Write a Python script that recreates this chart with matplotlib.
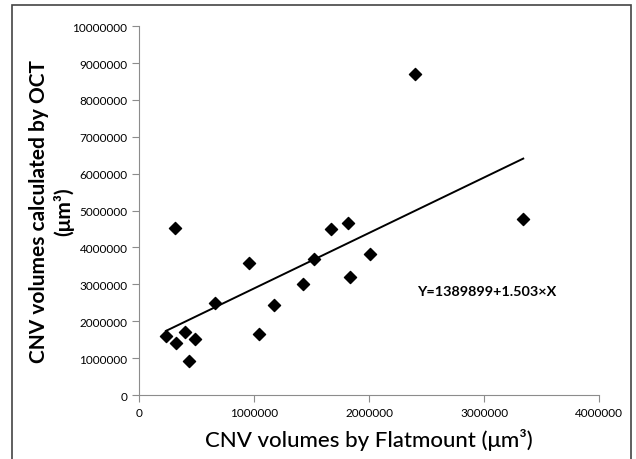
import matplotlib
matplotlib.use("Agg")

import matplotlib.pyplot as plt
from matplotlib.patches import Rectangle
import numpy as np

# CNV volumes (um^3)
flatmount = [232000, 316000, 310000, 397000, 481000, 432000, 655000, 951000,
             1043000, 1174000, 1423000, 1522000, 1664000, 1817000, 1832000,
             2003000, 2400000, 3340000]
oct_vol = [1590000, 1410000, 4540000, 1700000, 1510000, 920000, 2500000, 3590000,
           1650000, 2430000, 3010000, 3680000, 4490000, 4670000, 3210000,
           3820000, 8710000, 4770000]

intercept = 1389899
slope = 1.503

plt.rcParams['font.family'] = ['Lato', 'DejaVu Sans']

fig = plt.figure(figsize=(6.36, 4.60), dpi=100)
ax = fig.add_axes([0.219, 0.139, 0.723, 0.802])

ax.scatter(flatmount, oct_vol, marker="D", s=38, color="black", zorder=3)

# trend line over the range of the data
xs = np.array([min(flatmount), max(flatmount)])
ax.plot(xs, intercept + slope * xs, color="black", lw=1.4)

ax.set_xlim(0, 4000000)
ax.set_ylim(0, 10000000)
ax.set_xticks(range(0, 4000001, 1000000))
ax.set_yticks(range(0, 10000001, 1000000))
ax.set_xticklabels([str(v) for v in range(0, 4000001, 1000000)])
ax.set_yticklabels([str(v) for v in range(0, 10000001, 1000000)])

for side in ["top", "right"]:
    ax.spines[side].set_visible(False)
for side in ["left", "bottom"]:
    ax.spines[side].set_color("#8c8c8c")
ax.tick_params(colors="#8c8c8c", labelcolor="black", labelsize=8.5, length=5, direction="out")

ax.set_xlabel("CNV volumes by Flatmount (\u03bcm\u00b3)", fontsize=16, fontweight="medium", labelpad=7)
ax.set_ylabel("CNV volumes calculated by OCT\n(\u03bcm\u00b3)", fontsize=15, fontweight="bold", labelpad=-1)

ax.text(2420000, 2820000, "Y=1389899+1.503\u00d7X", fontsize=10.4, fontweight="bold", va="center", ha="left")

fig.patches.append(Rectangle((0.019, -0.01), 0.973, 0.997, transform=fig.transFigure,
                             fill=False, edgecolor="#444444", lw=1.2))

fig.savefig("out.png", dpi=100)
